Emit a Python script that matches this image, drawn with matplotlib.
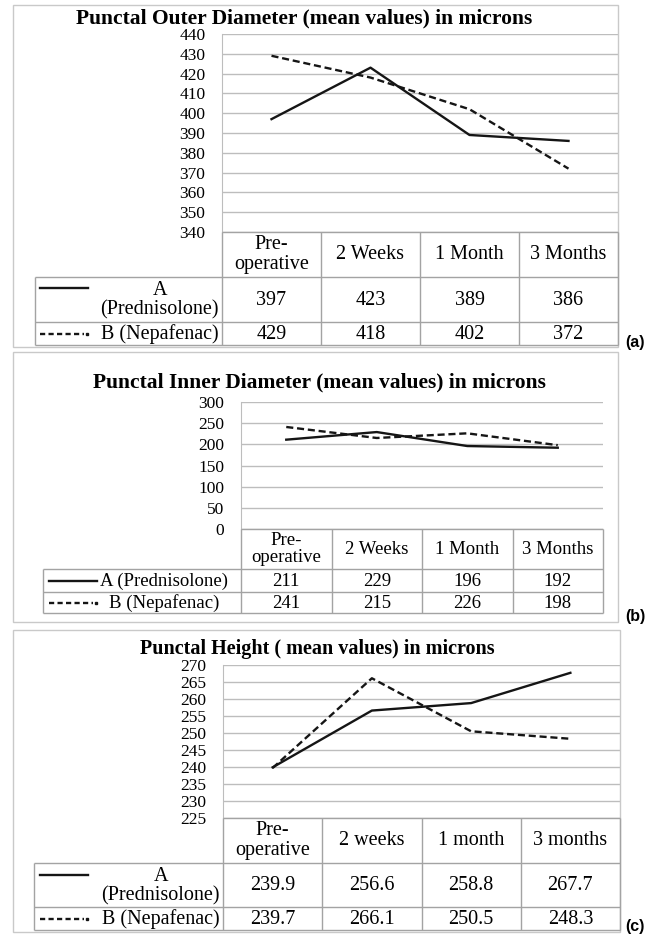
import numpy as np
import matplotlib
matplotlib.use("Agg")
import matplotlib.pyplot as plt

# ===== data =====
cats_ab = ["Pre-\noperative", "2 Weeks", "1 Month", "3 Months"]
cats_c = ["Pre-\noperative", "2 weeks", "1 month", "3 months"]

outer_pred = [397, 423, 389, 386]
outer_nepa = [429, 418, 402, 372]

inner_pred = [211, 229, 196, 192]
inner_nepa = [241, 215, 226, 198]

height_pred = [239.9, 256.6, 258.8, 267.7]
height_nepa = [239.7, 266.1, 250.5, 248.3]

name_a = "A (Prednisolone)"
name_b = "B (Nepafenac)"

titles = ["Punctal Outer Diameter (mean values) in microns",
          "Punctal Inner Diameter (mean values) in microns",
          "Punctal Height ( mean values) in microns"]

W, H = 648, 936
SERIF = ["Liberation Serif", "DejaVu Serif"]
GRID = "#bdbdbd"
TAB = "#a3a3a3"
FRAME = "#c9c9c9"
INK = "#151515"

fig = plt.figure(figsize=(W / 100, H / 100), dpi=100)
over = fig.add_axes([0, 0, 1, 1], zorder=5)
over.set_xlim(0, W)
over.set_ylim(H, 0)
over.axis("off")
over.patch.set_alpha(0)


def px_axes(x0, y0, x1, y1):
    return fig.add_axes([x0 / W, 1 - y1 / H, (x1 - x0) / W, (y1 - y0) / H])


def hline(y, x0, x1, c=TAB):
    over.plot([x0, x1], [y, y], color=c, lw=1, solid_capstyle="butt")


def vline(x, y0, y1, c=TAB):
    over.plot([x, x], [y0, y1], color=c, lw=1, solid_capstyle="butt")


def panel(cfg, cats, ya, yb, yticks, title, tag):
    fx0, fy0, fx1, fy1 = cfg["frame"]
    over.add_patch(plt.Rectangle((fx0, fy0), fx1 - fx0, fy1 - fy0,
                                 fill=False, ec=FRAME, lw=1))
    over.text(cfg["title"][0], cfg["title"][1], title, ha="center", va="center",
              family=SERIF, weight="bold", fontsize=cfg["tfs"])
    over.text(625, cfg["tag_y"], tag, ha="left", va="center",
              family="Liberation Sans", weight="bold", fontsize=11.5)

    px0, py0, px1, py1 = cfg["plot"]
    ax = px_axes(px0, py0, px1, py1)
    x = np.arange(len(cats))
    ax.plot(x, ya, color=INK, lw=1.7, solid_joinstyle="round")
    ax.plot(x, yb, color=INK, lw=1.7, linestyle=(0, (3, 1.6)))
    ax.set_xlim(-0.5, len(cats) - 0.5)
    ax.set_ylim(yticks[0], yticks[-1])
    ax.set_yticks(yticks)
    ax.set_yticklabels([str(v) for v in yticks], family=SERIF, fontsize=12.5)
    ax.set_xticks([])
    ax.tick_params(axis="y", length=0, pad=12)
    ax.yaxis.grid(True, color=GRID, lw=1)
    ax.set_axisbelow(True)
    for s in ["top", "right", "bottom"]:
        ax.spines[s].set_visible(False)
    ax.spines["left"].set_color(GRID)

    # table under the plot
    hb, rs, tb, ll = cfg["head_bot"], cfg["row_sep"], cfg["tab_bot"], cfg["leg_left"]
    fs = cfg["fs"]
    cw = (px1 - px0) / len(cats)
    hline(py1, px0, px1)
    for y in (hb, rs, tb):
        hline(y, ll, px1)
    for i in range(len(cats) + 1):
        vline(px0 + i * cw, py1, tb)
    vline(ll, hb, tb)
    for i, c in enumerate(cats):
        cx = px0 + (i + 0.5) * cw
        over.text(cx, (py1 + hb) / 2, c, ha="center", va="center",
                  family=SERIF, fontsize=fs, linespacing=1.05)
        over.text(cx, (hb + rs) / 2 + 1, str(ya[i]), ha="center", va="center",
                  family=SERIF, fontsize=fs)
        over.text(cx, (rs + tb) / 2 + 1, str(yb[i]), ha="center", va="center",
                  family=SERIF, fontsize=fs)

    sx0, sx1 = cfg["key_x"]
    over.plot([sx0, sx1], [cfg["key_a_y"]] * 2, color=INK, lw=1.7)
    over.plot([sx0, sx1 - 4], [(rs + tb) / 2] * 2, color=INK, lw=1.7,
              linestyle=(0, (2.2, 1.4)))
    over.plot([sx1 - 1.5], [(rs + tb) / 2], "s", ms=1.6, color=INK)
    if cfg["wrap"]:
        over.text(px0 - 3, (hb + rs) / 2 + 1, name_a.replace(" ", "\n", 1),
                  ha="right", va="center", multialignment="center",
                  family=SERIF, fontsize=fs, linespacing=1.0)
        over.text(px0 - 3, (rs + tb) / 2 + 1, name_b, ha="right", va="center",
                  family=SERIF, fontsize=fs)
    else:
        over.text(sx1 + 3, (hb + rs) / 2 + 1, name_a, ha="left", va="center",
                  family=SERIF, fontsize=fs)
        over.text(sx1 + 12, (rs + tb) / 2 + 1, name_b, ha="left", va="center",
                  family=SERIF, fontsize=fs)


cfg_a = dict(frame=(13, 5, 618, 347), title=(304, 18), tag_y=342,
             plot=(222, 34, 618, 232), head_bot=277, row_sep=322, tab_bot=345,
             leg_left=35, fs=14.5, tfs=15.5, key_x=(40, 88), key_a_y=288, wrap=True)
cfg_b = dict(frame=(13, 352, 618, 622), title=(319, 382), tag_y=617,
             plot=(241, 402, 603, 529), head_bot=569, row_sep=592, tab_bot=613,
             leg_left=43, fs=13.5, tfs=15.5, key_x=(49, 97), key_a_y=580.5, wrap=False)
cfg_c = dict(frame=(13, 630, 620, 932), title=(317, 649), tag_y=927,
             plot=(223, 665, 620, 818), head_bot=863, row_sep=907, tab_bot=930,
             leg_left=34, fs=14.5, tfs=14.5, key_x=(40, 88), key_a_y=875, wrap=True)

panel(cfg_a, cats_ab, outer_pred, outer_nepa, list(range(340, 441, 10)), titles[0], "(a)")
panel(cfg_b, cats_ab, inner_pred, inner_nepa, list(range(0, 301, 50)), titles[1], "(b)")
panel(cfg_c, cats_c, height_pred, height_nepa, list(range(225, 271, 5)), titles[2], "(c)")

fig.savefig("out.png", dpi=100)
